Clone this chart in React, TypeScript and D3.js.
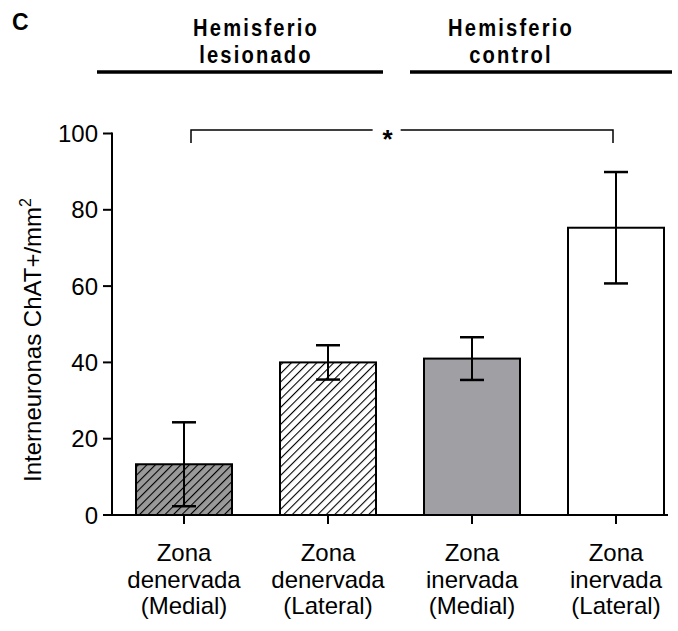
import { useEffect, useRef } from "react";
import * as d3 from "d3";

// Values
const categories = ["dm", "dl", "im", "il"];
const labelLines = [
  ["Zona", "denervada", "(Medial)"],
  ["Zona", "denervada", "(Lateral)"],
  ["Zona", "inervada", "(Medial)"],
  ["Zona", "inervada", "(Lateral)"],
];
const means = [13.3, 40, 41, 75.3];
const errors = [11, 4.5, 5.6, 14.6];
const fills = ["url(#hatchDark)", "url(#hatchLight)", "#a09fa4", "#ffffff"];
const yTicks = [0, 20, 40, 60, 80, 100];
const groupTitles = [
  ["Hemisferio", "lesionado"],
  ["Hemisferio", "control"],
];
const sigPair = ["dm", "il"];
const sigLevel = 100;

const W = 678;
const H = 631;
const left = 112;
const bottom = 515;
const top = 133.5;

export default function App(): JSX.Element {
  const ref = useRef<SVGSVGElement | null>(null);

  useEffect(() => {
    if (!ref.current) return;
    const svg = d3.select(ref.current);
    svg.selectAll("*").remove();

    const font = "'Liberation Sans', Arial, sans-serif";

    const x = d3.scaleBand<string>().domain(categories).range([left, left + 576]).padding(0);
    const barW = x.bandwidth() * (2 / 3);
    const cx = (c: string) => (x(c) ?? 0) + x.bandwidth() / 2;
    const y = d3.scaleLinear().domain([0, 100]).range([bottom, top]);

    const defs = svg.append("defs");
    const mkHatch = (id: string, bg: string) => {
      const p = defs
        .append("pattern")
        .attr("id", id)
        .attr("patternUnits", "userSpaceOnUse")
        .attr("width", 6)
        .attr("height", 6)
        .attr("patternTransform", "rotate(45)");
      p.append("rect").attr("width", 6).attr("height", 6).attr("fill", bg);
      p.append("line")
        .attr("x1", 0)
        .attr("y1", 0)
        .attr("x2", 0)
        .attr("y2", 6)
        .attr("stroke", "#000")
        .attr("stroke-width", 2.2);
    };
    mkHatch("hatchDark", "#9a9a9a");
    mkHatch("hatchLight", "#ffffff");

    // bars
    svg
      .append("g")
      .selectAll("rect")
      .data(categories)
      .join("rect")
      .attr("x", (c) => cx(c) - barW / 2)
      .attr("y", (_c, i) => y(means[i]))
      .attr("width", barW)
      .attr("height", (_c, i) => bottom - y(means[i]))
      .attr("fill", (_c, i) => fills[i])
      .attr("stroke", "#000")
      .attr("stroke-width", 2);

    // error bars
    const eb = svg.append("g").attr("stroke", "#000").attr("stroke-width", 2);
    categories.forEach((c, i) => {
      const hi = y(means[i] + errors[i]);
      const lo = y(means[i] - errors[i]);
      eb.append("line").attr("x1", cx(c)).attr("x2", cx(c)).attr("y1", hi).attr("y2", lo);
      eb.append("line").attr("x1", cx(c) - 12).attr("x2", cx(c) + 12).attr("y1", hi).attr("y2", hi).attr("stroke-width", 2.5);
      eb.append("line").attr("x1", cx(c) - 12).attr("x2", cx(c) + 12).attr("y1", lo).attr("y2", lo).attr("stroke-width", 2.5);
    });

    // y axis
    const ya = svg.append("g").attr("stroke", "#000").attr("stroke-width", 2);
    ya.append("line").attr("x1", left).attr("x2", left).attr("y1", top - 1).attr("y2", bottom);
    yTicks.forEach((t) => {
      ya.append("line").attr("x1", left - 9).attr("x2", left).attr("y1", y(t)).attr("y2", y(t));
    });
    svg
      .append("g")
      .selectAll("text")
      .data(yTicks)
      .join("text")
      .attr("x", left - 14)
      .attr("y", (t) => y(t))
      .attr("dy", "0.36em")
      .attr("text-anchor", "end")
      .attr("font-family", font)
      .attr("font-size", 24)
      .text((t) => t);

    // x axis
    const xa = svg.append("g").attr("stroke", "#000").attr("stroke-width", 2);
    xa.append("line").attr("x1", left - 9).attr("x2", 668).attr("y1", bottom).attr("y2", bottom);
    categories.forEach((c) => {
      xa.append("line").attr("x1", cx(c)).attr("x2", cx(c)).attr("y1", bottom).attr("y2", bottom + 9);
    });
    categories.forEach((c, i) => {
      const t = svg
        .append("text")
        .attr("x", cx(c))
        .attr("y", 561)
        .attr("text-anchor", "middle")
        .attr("font-family", font)
        .attr("font-size", 24);
      labelLines[i].forEach((ln, k) => {
        t.append("tspan").attr("x", cx(c)).attr("dy", k === 0 ? 0 : 26.5).text(ln);
      });
    });

    // y title
    const yt = svg
      .append("text")
      .attr("transform", `translate(41, 340) rotate(-90)`)
      .attr("text-anchor", "middle")
      .attr("font-family", font)
      .attr("font-size", 24);
    yt.append("tspan").text("Interneuronas ChAT+/mm");
    yt.append("tspan").attr("font-size", 16).attr("dy", -10).text("2");

    // significance bracket
    const sx1 = cx(sigPair[0]) + 7;
    const sx2 = cx(sigPair[1]) - 3;
    const sy = y(sigLevel) - 3.5;
    const starX = sx1 + (sx2 - sx1) * 0.466;
    const br = svg.append("g").attr("stroke", "#000").attr("stroke-width", 1.5).attr("fill", "none");
    br.append("path").attr("d", `M${sx1},${sy + 13}V${sy}H${starX - 15}`);
    br.append("path").attr("d", `M${starX + 13},${sy}H${sx2}V${sy + 13}`);
    svg
      .append("text")
      .attr("x", starX)
      .attr("y", sy + 18)
      .attr("text-anchor", "middle")
      .attr("font-family", font)
      .attr("font-weight", "bold")
      .attr("font-size", 26)
      .text("*");

    // group headers (condensed bold, spaced letters)
    const spans = [
      [97, 383],
      [410, 672],
    ];
    const centers = [256, 511];
    spans.forEach((s, g) => {
      svg
        .append("line")
        .attr("x1", s[0])
        .attr("x2", s[1])
        .attr("y1", 72)
        .attr("y2", 72)
        .attr("stroke", "#000")
        .attr("stroke-width", 3.5);
      const t = svg
        .append("g")
        .attr("transform", `translate(${centers[g]},0) scale(0.84,1)`)
        .append("text")
        .attr("x", 0)
        .attr("y", 36)
        .attr("text-anchor", "middle")
        .attr("font-family", font)
        .attr("font-weight", "bold")
        .attr("font-size", 24)
        .attr("letter-spacing", 2.6);
      groupTitles[g].forEach((ln, k) => {
        t.append("tspan").attr("x", 0).attr("dy", k === 0 ? 0 : 27).text(ln);
      });
    });

    svg
      .append("text")
      .attr("x", 12)
      .attr("y", 30)
      .attr("font-family", font)
      .attr("font-weight", "bold")
      .attr("font-size", 23)
      .text("C");
  }, []);

  return (
    <svg
      ref={ref}
      width={W}
      height={H}
      style={{ position: "absolute", left: 0, top: 0, background: "#fff" }}
    />
  );
}
